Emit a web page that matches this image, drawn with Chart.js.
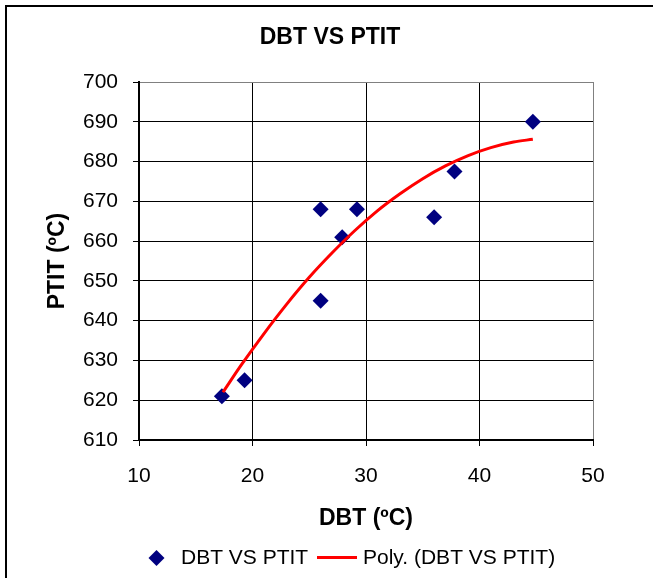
<!DOCTYPE html>
<html>
<head>
<meta charset="utf-8">
<script src="https://cdn.jsdelivr.net/npm/chart.js@4.4.1/dist/chart.umd.min.js"></script>
<style>
  html, body { margin: 0; padding: 0; background: #fff; }
  #wrap { width: 653px; height: 578px; position: relative; }
</style>
</head>
<body>
<div id="wrap"><canvas id="c" width="653" height="578"></canvas></div>
<script>
// ---- data ----
const chartTitle = 'DBT VS PTIT';
const xTitle = 'DBT (ºC)';
const yTitle = 'PTIT (ºC)';
const seriesName = 'DBT VS PTIT';
const trendName = 'Poly. (DBT VS PTIT)';

const dbt  = [17.3, 19.3, 26.0, 26.0, 27.9, 29.2, 36.0, 37.8, 44.7];
const ptit = [621, 625, 668, 645, 661, 668, 666, 677.5, 690];

const trendX = [17.4, 19, 21, 23, 25, 27, 29, 31, 33, 35, 37, 39, 41, 43, 44.7];
const trendY = [622.0, 628.8, 636.7, 644.1, 650.9, 657.0, 662.6, 667.6, 671.9, 675.7, 678.9, 681.5, 683.5, 684.9, 685.6];

const xTicks = [10, 20, 30, 40, 50];
const yTicks = [610, 620, 630, 640, 650, 660, 670, 680, 690, 700];

// ---- build ----
const FONT = '"Liberation Sans", Arial, sans-serif';
const scatterPts = dbt.map((x, i) => ({ x: x, y: ptit[i] }));
const trendPts = trendX.map((x, i) => ({ x: x, y: trendY[i] }));

const decor = {
  id: 'decor',
  beforeDraw(chart) {
    const ctx = chart.ctx;
    ctx.save();
    ctx.fillStyle = '#ffffff';
    ctx.fillRect(0, 0, chart.width, chart.height);
    ctx.fillStyle = '#000000';
    ctx.fillRect(5, 5, 2, chart.height);   // left frame line
    ctx.fillRect(5, 5, chart.width, 2);    // top frame line
    ctx.restore();
  },
  afterDraw(chart) {
    const ctx = chart.ctx;
    ctx.save();
    // title
    ctx.fillStyle = '#000';
    ctx.font = 'bold 23px ' + FONT;
    ctx.textAlign = 'center';
    ctx.textBaseline = 'middle';
    ctx.fillText(chartTitle, 330, 38);
    // legend
    const ly = 558;
    ctx.fillStyle = '#000080';
    ctx.beginPath();
    ctx.moveTo(156.5 - 8, ly);
    ctx.lineTo(156.5, ly - 8);
    ctx.lineTo(156.5 + 8, ly);
    ctx.lineTo(156.5, ly + 8);
    ctx.closePath();
    ctx.fill();
    ctx.fillStyle = '#000';
    ctx.font = '21px ' + FONT;
    ctx.textAlign = 'left';
    ctx.fillText(seriesName, 181, ly);
    ctx.strokeStyle = '#ff0000';
    ctx.lineWidth = 3;
    ctx.beginPath();
    ctx.moveTo(317, ly - 0.5);
    ctx.lineTo(357, ly - 0.5);
    ctx.stroke();
    ctx.fillText(trendName, 363, ly);
    ctx.restore();
  }
};

new Chart(document.getElementById('c'), {
  type: 'scatter',
  data: {
    datasets: [
      {
        label: seriesName,
        data: scatterPts,
        pointStyle: 'rectRot',
        pointRadius: 8,
        pointHoverRadius: 8,
        backgroundColor: '#000080',
        borderColor: '#000080',
        borderWidth: 0,
        order: 2
      },
      {
        label: trendName,
        type: 'line',
        data: trendPts,
        showLine: true,
        borderColor: '#ff0000',
        borderWidth: 3,
        pointRadius: 0,
        fill: false,
        cubicInterpolationMode: 'monotone',
        order: 1
      }
    ]
  },
  options: {
    responsive: false,
    animation: false,
    devicePixelRatio: 1,
    layout: { padding: { left: 0, right: 60, top: 82, bottom: 0 } },
    plugins: {
      legend: { display: false },
      title: { display: false },
      tooltip: { enabled: false }
    },
    scales: {
      x: {
        type: 'linear',
        min: 10, max: 50,
        afterBuildTicks(s) { s.ticks = xTicks.map(v => ({ value: v })); },
        afterFit(s) { s.height = 138; },
        ticks: { color: '#000', font: { family: FONT, size: 21 }, padding: 18, maxRotation: 0 },
        grid: {
          color: (c) => (c.tick && c.tick.value === 50) ? '#808080' : '#000000',
          tickColor: '#000000',
          lineWidth: 1,
          tickLength: 6
        },
        border: { color: '#000000', width: 2 },
        title: {
          display: true, text: xTitle, color: '#000',
          font: { family: FONT, size: 23, weight: 'bold' },
          padding: { top: 0, bottom: 46 }
        }
      },
      y: {
        type: 'linear',
        min: 610, max: 700,
        afterBuildTicks(s) { s.ticks = yTicks.map(v => ({ value: v })); },
        afterFit(s) { s.width = 139; },
        ticks: { color: '#000', font: { family: FONT, size: 21 }, padding: 15 },
        grid: {
          color: (c) => (c.tick && c.tick.value === 700) ? '#808080' : '#000000',
          tickColor: '#000000',
          lineWidth: 1,
          tickLength: 6
        },
        border: { color: '#000000', width: 2 },
        title: {
          display: true, text: yTitle, color: '#000',
          font: { family: FONT, size: 23, weight: 'bold' },
          padding: { top: 44, bottom: 0 }
        }
      }
    }
  },
  plugins: [decor]
});
</script>
</body>
</html>
